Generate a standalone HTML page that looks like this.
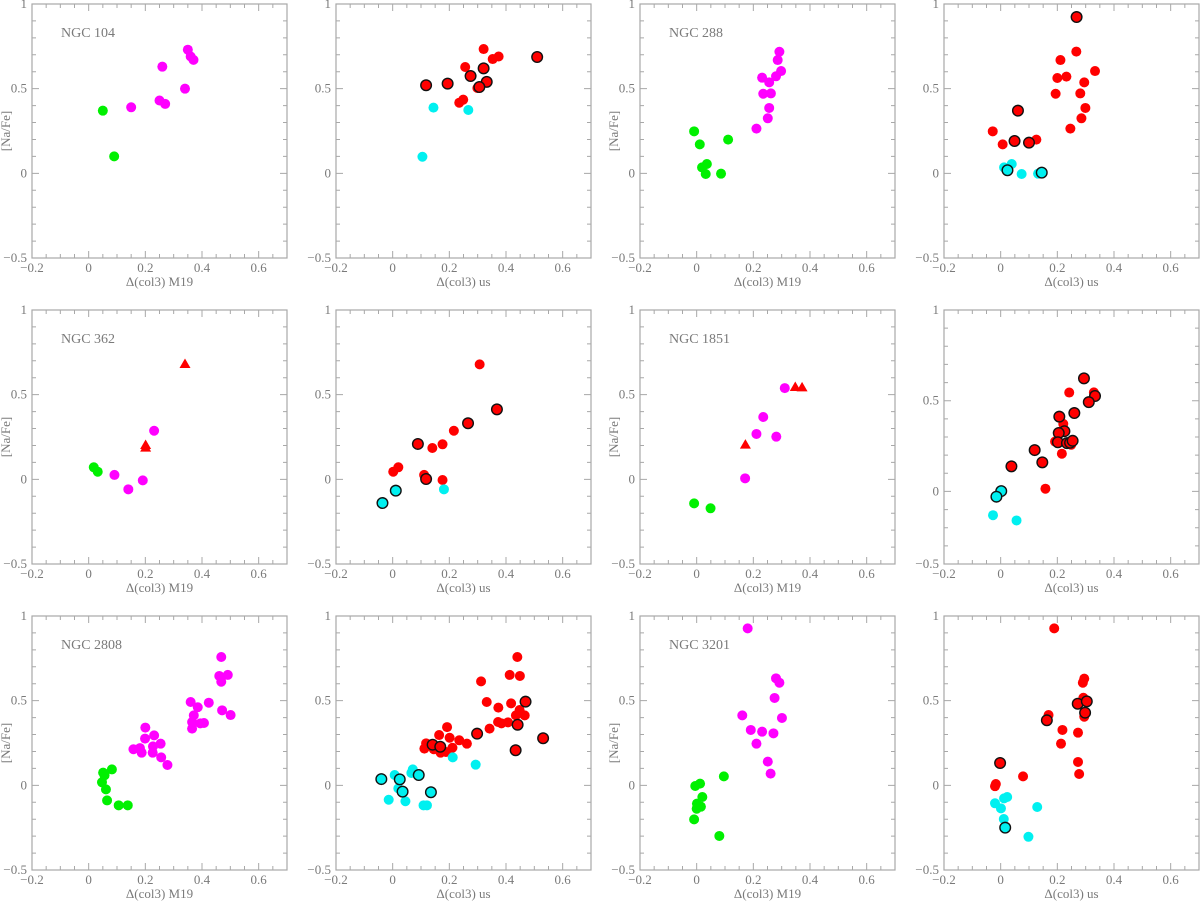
<!DOCTYPE html>
<html><head><meta charset="utf-8"><style>
html,body{margin:0;padding:0;background:#fff;}
svg{display:block;}
text{font-family:"Liberation Serif",serif;fill:#7a7a7a;}
</style></head><body>
<svg id="fig" width="1200" height="903" viewBox="0 0 1200 903" xmlns="http://www.w3.org/2000/svg"></svg>
<script>
// ---- data: [x, y] pairs per series ----
const ngc104_m19_green = [[0.05,0.37],[0.09,0.10]];
const ngc104_m19_magenta = [[0.15,0.39],[0.25,0.43],[0.27,0.41],[0.26,0.63],[0.34,0.50],[0.35,0.73],[0.36,0.69],[0.37,0.67]];
const ngc104_us_red = [[0.321,0.734],[0.353,0.675],[0.374,0.69],[0.256,0.628],[0.299,0.504],[0.235,0.417],[0.249,0.435]];
const ngc104_us_redB = [[0.118,0.52],[0.194,0.53],[0.275,0.575],[0.321,0.62],[0.332,0.54],[0.306,0.51],[0.51,0.687]];
const ngc104_us_cyan = [[0.144,0.388],[0.267,0.374],[0.105,0.098]];

const ngc288_m19_green = [[-0.009,0.248],[0.011,0.171],[0.111,0.199],[0.036,0.055],[0.019,0.035],[0.032,-0.004],[0.086,-0.002]];
const ngc288_m19_magenta = [[0.292,0.718],[0.286,0.669],[0.298,0.604],[0.28,0.573],[0.231,0.565],[0.256,0.537],[0.235,0.47],[0.262,0.472],[0.256,0.386],[0.251,0.325],[0.211,0.264]];
const ngc288_us_red = [[0.267,0.719],[0.211,0.669],[0.2,0.563],[0.232,0.571],[0.333,0.604],[0.295,0.537],[0.194,0.47],[0.281,0.472],[0.299,0.386],[0.285,0.325],[0.246,0.264],[-0.028,0.248],[0.007,0.171],[0.126,0.199]];
const ngc288_us_redB = [[0.268,0.923],[0.061,0.37],[0.049,0.191],[0.1,0.181]];
const ngc288_us_cyan = [[0.012,0.035],[0.039,0.055],[0.074,-0.004],[0.132,-0.002]];
const ngc288_us_cyanB = [[0.024,0.018],[0.145,0.004]];

const ngc362_m19_green = [[0.018,0.071],[0.032,0.045]];
const ngc362_m19_magenta = [[0.091,0.026],[0.14,-0.059],[0.191,-0.006],[0.231,0.287]];
const ngc362_m19_tri = [[0.34,0.681],[0.201,0.203],[0.201,0.187]];
const ngc362_us_red = [[0.307,0.679],[0.216,0.287],[0.14,0.185],[0.176,0.207],[0.002,0.045],[0.02,0.071],[0.111,0.026],[0.176,-0.004]];
const ngc362_us_redB = [[0.368,0.413],[0.266,0.331],[0.089,0.209],[0.118,0.002]];
const ngc362_us_cyan = [[0.181,-0.059]];
const ngc362_us_cyanB = [[0.011,-0.067],[-0.036,-0.14]];

const ngc1851_m19_green = [[-0.009,-0.142],[0.049,-0.171]];
const ngc1851_m19_magenta = [[0.311,0.539],[0.235,0.368],[0.211,0.268],[0.281,0.252],[0.171,0.006]];
const ngc1851_m19_tri = [[0.348,0.545],[0.372,0.543],[0.172,0.205]];
const ngc1851_us_red = [[0.242,0.545],[0.329,0.546],[0.221,0.372],[0.192,0.275],[0.249,0.257],[0.216,0.208],[0.158,0.015]];
const ngc1851_us_redB = [[0.294,0.623],[0.333,0.526],[0.311,0.492],[0.26,0.432],[0.207,0.412],[0.225,0.332],[0.205,0.322],[0.202,0.271],[0.234,0.266],[0.245,0.268],[0.254,0.279],[0.12,0.228],[0.147,0.16],[0.038,0.138]];
const ngc1851_us_cyan = [[-0.027,-0.131],[0.056,-0.16]];
const ngc1851_us_cyanB = [[0.002,0.002],[-0.015,-0.029]];

const ngc2808_m19_green = [[0.082,0.094],[0.051,0.075],[0.056,0.059],[0.047,0.018],[0.061,-0.024],[0.065,-0.089],[0.106,-0.118],[0.138,-0.118]];
const ngc2808_m19_magenta = [[0.468,0.758],[0.461,0.646],[0.491,0.652],[0.468,0.612],[0.36,0.492],[0.385,0.461],[0.424,0.488],[0.371,0.413],[0.365,0.374],[0.394,0.366],[0.407,0.368],[0.365,0.335],[0.471,0.443],[0.501,0.415],[0.2,0.341],[0.199,0.276],[0.231,0.295],[0.227,0.23],[0.254,0.246],[0.181,0.22],[0.158,0.213],[0.187,0.193],[0.226,0.193],[0.256,0.165],[0.278,0.12]];
const ngc2808_us_red = [[0.44,0.758],[0.413,0.652],[0.449,0.646],[0.312,0.614],[0.332,0.492],[0.373,0.459],[0.418,0.484],[0.448,0.445],[0.435,0.413],[0.466,0.413],[0.372,0.374],[0.384,0.366],[0.407,0.372],[0.342,0.335],[0.192,0.344],[0.164,0.297],[0.201,0.281],[0.235,0.266],[0.262,0.246],[0.118,0.248],[0.112,0.217],[0.145,0.213],[0.169,0.193],[0.188,0.197],[0.211,0.222]];
const ngc2808_us_redB = [[0.469,0.494],[0.441,0.358],[0.298,0.305],[0.531,0.278],[0.434,0.207],[0.141,0.24],[0.168,0.228]];
const ngc2808_us_cyan = [[0.212,0.165],[0.293,0.122],[0.007,0.061],[0.071,0.094],[0.066,0.073],[0.02,-0.018],[-0.014,-0.085],[0.045,-0.094],[0.109,-0.118],[0.121,-0.118]];
const ngc2808_us_cyanB = [[-0.04,0.037],[0.025,0.035],[0.092,0.061],[0.035,-0.037],[0.135,-0.041]];

const ngc3201_m19_green = [[0.096,0.053],[-0.005,-0.004],[0.012,0.01],[0.02,-0.069],[0.001,-0.108],[0.015,-0.126],[0.0,-0.138],[-0.009,-0.201],[0.08,-0.299]];
const ngc3201_m19_magenta = [[0.18,0.927],[0.28,0.632],[0.292,0.606],[0.275,0.516],[0.161,0.413],[0.301,0.398],[0.191,0.327],[0.231,0.317],[0.271,0.307],[0.211,0.246],[0.251,0.14],[0.261,0.069]];
const ngc3201_us_red = [[0.189,0.927],[0.295,0.63],[0.29,0.606],[0.292,0.517],[0.295,0.405],[0.169,0.415],[0.218,0.327],[0.213,0.246],[0.273,0.311],[0.273,0.138],[0.277,0.067],[0.079,0.053],[-0.017,0.008],[-0.02,-0.005]];
const ngc3201_us_redB = [[-0.002,0.132],[0.163,0.384],[0.272,0.482],[0.304,0.496],[0.298,0.429]];
const ngc3201_us_cyan = [[-0.02,-0.106],[0.001,-0.136],[0.012,-0.077],[0.023,-0.069],[0.011,-0.199],[0.098,-0.304],[0.129,-0.128]];
const ngc3201_us_cyanB = [[0.016,-0.25]];

const xTicks = [-0.2, 0, 0.2, 0.4, 0.6];
const xTickLabels = ["\u22120.2", "0", "0.2", "0.4", "0.6"];
const yTicks = [1, 0.5, 0, -0.5];
const yTickLabels = ["1", "0.5", "0", "\u22120.5"];

const panels = [
 {name:"ngc104-m19", title:"NGC 104", xl:"\u0394(col3) M19", ylab:true, series:[["green",ngc104_m19_green],["magenta",ngc104_m19_magenta]]},
 {name:"ngc104-us", xl:"\u0394(col3) us", series:[["red",ngc104_us_red],["redB",ngc104_us_redB],["cyan",ngc104_us_cyan]]},
 {name:"ngc288-m19", title:"NGC 288", xl:"\u0394(col3) M19", ylab:true, series:[["green",ngc288_m19_green],["magenta",ngc288_m19_magenta]]},
 {name:"ngc288-us", xl:"\u0394(col3) us", series:[["red",ngc288_us_red],["cyan",ngc288_us_cyan],["redB",ngc288_us_redB],["cyanB",ngc288_us_cyanB]]},
 {name:"ngc362-m19", title:"NGC 362", xl:"\u0394(col3) M19", ylab:true, series:[["green",ngc362_m19_green],["magenta",ngc362_m19_magenta],["tri",ngc362_m19_tri]]},
 {name:"ngc362-us", xl:"\u0394(col3) us", series:[["red",ngc362_us_red],["redB",ngc362_us_redB],["cyan",ngc362_us_cyan],["cyanB",ngc362_us_cyanB]]},
 {name:"ngc1851-m19", title:"NGC 1851", xl:"\u0394(col3) M19", ylab:true, series:[["green",ngc1851_m19_green],["magenta",ngc1851_m19_magenta],["tri",ngc1851_m19_tri]]},
 {name:"ngc1851-us", xl:"\u0394(col3) us", ymin:-0.4, series:[["red",ngc1851_us_red],["redB",ngc1851_us_redB],["cyan",ngc1851_us_cyan],["cyanB",ngc1851_us_cyanB]]},
 {name:"ngc2808-m19", title:"NGC 2808", xl:"\u0394(col3) M19", ylab:true, series:[["green",ngc2808_m19_green],["magenta",ngc2808_m19_magenta]]},
 {name:"ngc2808-us", xl:"\u0394(col3) us", series:[["red",ngc2808_us_red],["cyan",ngc2808_us_cyan],["redB",ngc2808_us_redB],["cyanB",ngc2808_us_cyanB]]},
 {name:"ngc3201-m19", title:"NGC 3201", xl:"\u0394(col3) M19", ylab:true, series:[["green",ngc3201_m19_green],["magenta",ngc3201_m19_magenta]]},
 {name:"ngc3201-us", xl:"\u0394(col3) us", series:[["red",ngc3201_us_red],["redB",ngc3201_us_redB],["cyan",ngc3201_us_cyan],["cyanB",ngc3201_us_cyanB]]}
];

const NS = "http://www.w3.org/2000/svg";
const svg = document.getElementById("fig");
function mk(tag, attrs, parent){
  const e = document.createElementNS(NS, tag);
  for (const k in attrs) e.setAttribute(k, attrs[k]);
  parent.appendChild(e);
  return e;
}
const W = 255, H = 254, XMIN = -0.2, XMAX = 0.7, YMAX = 1.0;
const fill = {green:"#00f000", magenta:"#ff00ff", red:"#ff0000", redB:"#ff0000", cyan:"#00f0f0", cyanB:"#00f0f0", tri:"#ff0000"};

panels.forEach((p, i) => {
  const col = i % 4, row = Math.floor(i / 4);
  const L = 32 + col * 304, T = 4 + row * 306;
  const ymin = (p.ymin !== undefined) ? p.ymin : -0.5;
  const sx = v => L + (v - XMIN) / (XMAX - XMIN) * W;
  const sy = v => T + (YMAX - v) / (YMAX - ymin) * H;
  const g = mk("g", {}, svg);
  
  
  const fr = mk("rect", {x:L, y:T, width:W, height:H, fill:"none", stroke:"#a8a8a8", "stroke-width":1.2}, g);
  
  
  // ticks
  let d = "";
  for (let k = 0; k <= 18; k++) {
    const v = XMIN + k * 0.05, x = sx(v);
    const major = (k % 4 === 0);
    const len = major ? 7 : 4;
    d += `M${x},${T+H}v${-len}M${x},${T}v${len}`;
  }
  const ny = Math.round((YMAX - ymin) / 0.1);
  for (let k = 0; k <= ny; k++) {
    const v = YMAX - k * 0.1, y = sy(v);
    const major = Math.abs(v / 0.5 - Math.round(v / 0.5)) < 1e-6;
    const len = major ? 7 : 4;
    d += `M${L},${y}h${len}M${L+W},${y}h${-len}`;
  }
  const tk = mk("path", {d:d, stroke:"#a8a8a8", "stroke-width":1, fill:"none"}, g);
  
  
  // x tick labels
  xTicks.forEach((v, k) => {
    const t = mk("text", {x:sx(v), y:T+H+14, "font-size":13, "text-anchor":"middle"}, g);
    t.textContent = xTickLabels[k];
    
    
  });
  // y tick labels
  yTicks.forEach((v, k) => {
    const vv = Math.max(v, ymin);
    const t = mk("text", {x:L-5, y:sy(vv)+4, "font-size":13, "text-anchor":"end"}, g);
    t.textContent = yTickLabels[k];
    
    
  });
  const xt = mk("text", {x:L+W/2, y:T+H+28, "font-size":13, "text-anchor":"middle"}, g);
  xt.textContent = p.xl;
  
  
  if (p.ylab) {
    const yt = mk("text", {x:0, y:0, "font-size":13, "text-anchor":"middle", transform:`translate(${L-22},${T+H/2}) rotate(-90)`}, g);
    yt.textContent = "[Na/Fe]";
    
    
  }
  if (p.title) {
    const tt = mk("text", {x:L+29, y:T+33, "font-size":14}, g);
    tt.textContent = p.title;
    
    
  }
  // marks
  p.series.forEach(([kind, pts]) => {
    pts.forEach(([vx, vy]) => {
      const cx = sx(vx), cy = sy(vy);
      let m;
      if (kind === "tri") {
        m = mk("polygon", {points:`${cx},${cy-5.5} ${cx-5.5},${cy+4} ${cx+5.5},${cy+4}`, fill:fill[kind]}, g);
        
      } else if (kind === "redB" || kind === "cyanB") {
        m = mk("circle", {cx:cx, cy:cy, r:5.3, fill:fill[kind], stroke:"#111", "stroke-width":1.4}, g);
        
      } else {
        m = mk("circle", {cx:cx, cy:cy, r:5, fill:fill[kind]}, g);
        
      }
      
    });
  });
});
</script>
</body></html>
